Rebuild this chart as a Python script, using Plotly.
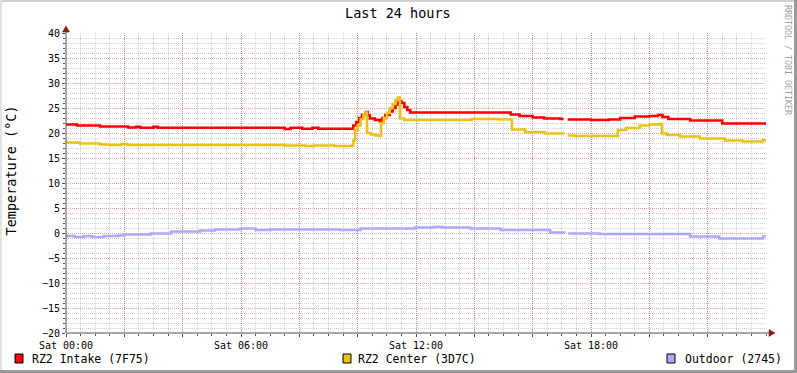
import plotly.graph_objects as go

# ---------------- data (hours since Sat 00:00, °C) ----------------
intake_t = [0, 0.38, 1.17, 2.13, 2.4, 2.55, 3.0, 3.15, 7.5, 7.7, 8.1, 8.45, 8.65, 9.8,
            9.85, 9.95, 10.05, 10.15, 10.28, 10.35, 10.42, 10.59, 10.76, 10.85, 10.95,
            11.1, 11.2, 11.3, 11.4, 11.5, 11.6, 11.7, 11.8, 15.22, 15.25, 15.55, 16.0,
            16.4, 16.95, 17.06, 17.1, 17.2, 18.0, 18.6, 19.0, 19.5, 20.0, 20.3, 20.45,
            20.65, 21.4, 22.5, 24.0]
intake_v = [21.7, 21.5, 21.3, 21.1, 21.25, 21.05, 21.25, 21.05, 20.8, 21.05, 20.85, 21.05,
            20.85, 20.85, 21.5, 22.2, 23.0, 23.6, 24.2, 23.5, 22.9, 22.6, 22.3, 23.0, 23.6,
            24.3, 25.0, 25.7, 26.4, 26.0, 25.2, 24.6, 24.1, 24.1, 23.7, 23.4, 23.1, 22.9,
            22.8, 22.8, None, 22.7, 22.6, 22.7, 23.0, 23.3, 23.4, 23.6, 23.2, 22.8, 22.5,
            21.9, 21.9]

center_t = [0, 0.48, 1.17, 1.5, 1.9, 2.1, 7.5, 8.2, 8.5, 9.2, 9.8, 9.85, 9.91, 10.0, 10.1,
            10.2, 10.28, 10.32, 10.45, 10.6, 10.76, 10.8, 10.9, 11.0, 11.1, 11.2, 11.3,
            11.38, 11.45, 11.6, 13.9, 14.8, 15.29, 15.74, 16.42, 17.06, 17.1, 17.2, 17.45,
            18.92, 19.2, 19.68, 20.0, 20.36, 20.43, 20.6, 21.05, 21.73, 22.59, 23.2, 23.89,
            24.0]
center_v = [18.1, 17.9, 17.7, 17.6, 17.8, 17.6, 17.5, 17.4, 17.5, 17.4, 17.5, 18.5, 20.6,
            21.5, 22.8, 23.6, 24.1, 20.0, 19.7, 19.5, 19.4, 22.0, 23.0, 24.0, 25.0, 25.8,
            26.6, 27.1, 22.9, 22.6, 22.8, 22.7, 20.7, 20.2, 19.9, 19.7, None, 19.5, 19.4,
            20.6, 21.0, 21.5, 21.7, 21.8, 19.9, 19.6, 19.3, 18.9, 18.5, 18.3, 18.6, 18.6]

outdoor_t = [0, 0.3, 0.6, 0.9, 1.3, 1.8, 2.0, 2.9, 3.6, 4.6, 5.1, 5.97, 6.5, 7.0, 8.0, 9.4,
             10.1, 11.96, 12.6, 12.9, 13.85, 14.9, 16.0, 16.6, 17.08, 17.12, 17.22, 18.3,
             20.0, 21.4, 22.4, 23.5, 23.89, 24.0]
outdoor_v = [-0.6, -0.8, -0.6, -0.8, -0.6, -0.5, -0.3, -0.1, 0.3, 0.5, 0.7, 0.9, 0.6, 0.7,
             0.7, 0.6, 0.9, 1.1, 1.2, 1.1, 0.9, 0.6, 0.6, 0.1, 0.0, None, -0.1, -0.2, -0.2,
             -0.7, -1.1, -1.1, -0.7, -0.7]

x_tick_vals = [0, 2, 4, 6, 8, 10, 12, 14, 16, 18, 20, 22]
x_tick_text = ["Sat 00:00", "", "", "Sat 06:00", "", "", "Sat 12:00", "", "", "Sat 18:00", "", ""]

series_names = ["RZ2 Intake (7F75)", "RZ2 Center (3D7C)", "Outdoor (2745)"]
series_colors = ["#FF0000", "#EAC31A", "#AAAAFF"]

# ---------------- figure ----------------
W, H = 797, 373
L, R, T, B = 66, 31, 33, 40
PW, PH = W - L - R, H - T - B

def px(x):
    return (x - L) / PW

def py(y):
    return (H - B - y) / PH

FONT = "DejaVu Sans Mono"
fig = go.Figure()
for t, v, name, col in zip([intake_t, center_t, outdoor_t],
                           [intake_v, center_v, outdoor_v],
                           series_names, series_colors):
    fig.add_trace(go.Scatter(x=t, y=v, mode="lines", name=name,
                             line=dict(color=col, width=2.6, shape="hv"),
                             connectgaps=False, showlegend=False))

grid_minor = "rgba(150,150,150,0.45)"
grid_major = "rgba(200,70,70,0.5)"
axis_col = "#505050"
DOT = "1px,1px"

fig.update_layout(
    width=W, height=H,
    margin=dict(l=L, r=R, t=T, b=B, pad=0),
    paper_bgcolor="#FFFFFF", plot_bgcolor="#FFFFFF",
    font=dict(family=FONT, size=10, color="#000000"),
    xaxis=dict(range=[0, 24], tickvals=x_tick_vals, ticktext=x_tick_text,
               showgrid=True, gridcolor=grid_major, griddash=DOT, gridwidth=1,
               zeroline=False, showline=False, ticks="outside", ticklen=3,
               tickcolor=axis_col, tickfont=dict(size=10, family=FONT),
               minor=dict(dtick=0.5, tick0=0, showgrid=True, gridcolor=grid_minor,
                          griddash=DOT, gridwidth=1, ticks="outside", ticklen=2,
                          tickcolor=axis_col),
               fixedrange=True),
    yaxis=dict(range=[-20, 40], dtick=5, tick0=0,
               showgrid=True, gridcolor=grid_major, griddash=DOT, gridwidth=1,
               zeroline=False, showline=False, ticks="outside", ticklen=3,
               tickcolor=axis_col, tickfont=dict(size=10, family=FONT),
               minor=dict(dtick=1, showgrid=True, gridcolor=grid_minor,
                          griddash=DOT, gridwidth=1, ticks="outside", ticklen=2,
                          tickcolor=axis_col),
               fixedrange=True),
)

shapes = []
# axis lines
shapes.append(dict(type="line", xref="paper", yref="paper", x0=px(66), x1=px(771),
                   y0=py(333), y1=py(333), line=dict(color=axis_col, width=1)))
shapes.append(dict(type="line", xref="paper", yref="paper", x0=px(66), x1=px(66),
                   y0=py(333), y1=py(29), line=dict(color=axis_col, width=1)))
# arrows
arrow_col = "#8B1A1A"
shapes.append(dict(type="path", xref="paper", yref="paper",
                   path=f"M {px(66)} {py(26)} L {px(62.5)} {py(32)} L {px(69.5)} {py(32)} Z",
                   fillcolor=arrow_col, line=dict(color=arrow_col, width=0.5)))
shapes.append(dict(type="path", xref="paper", yref="paper",
                   path=f"M {px(775)} {py(333)} L {px(769)} {py(329.5)} L {px(769)} {py(336.5)} Z",
                   fillcolor=arrow_col, line=dict(color=arrow_col, width=0.5)))
# frame (3D border)
shapes.append(dict(type="rect", xref="paper", yref="paper", x0=px(0), x1=px(W),
                   y0=py(0), y1=py(2), fillcolor="#CFCFCF", line=dict(width=0)))
shapes.append(dict(type="rect", xref="paper", yref="paper", x0=px(0), x1=px(2),
                   y0=py(0), y1=py(H), fillcolor="#E2E2E2", line=dict(width=0)))
shapes.append(dict(type="rect", xref="paper", yref="paper", x0=px(W - 3), x1=px(W),
                   y0=py(0), y1=py(H), fillcolor="#9A9A9A", line=dict(width=0)))
shapes.append(dict(type="rect", xref="paper", yref="paper", x0=px(0), x1=px(W),
                   y0=py(H - 3), y1=py(H), fillcolor="#9A9A9A", line=dict(width=0)))

annotations = []
# legend
legend_sq_x = [15, 343, 667]
legend_txt_x = [30, 356, 683]
for sx, tx, name, col in zip(legend_sq_x, legend_txt_x, series_names, series_colors):
    shapes.append(dict(type="rect", xref="paper", yref="paper", x0=px(sx), x1=px(sx + 8),
                       y0=py(354), y1=py(363), fillcolor=col,
                       line=dict(color="#000000", width=1)))
    annotations.append(dict(xref="paper", yref="paper", x=px(tx), y=py(358.5),
                            xanchor="left", yanchor="middle", showarrow=False,
                            text=name, font=dict(family=FONT, size=11.5, color="#000000")))

# title
annotations.append(dict(xref="paper", yref="paper", x=px(398), y=py(13),
                        xanchor="center", yanchor="middle", showarrow=False,
                        text="Last 24 hours", font=dict(family=FONT, size=13.5, color="#000000")))
# y label
annotations.append(dict(xref="paper", yref="paper", x=px(10), y=py(170.5),
                        xanchor="center", yanchor="middle", showarrow=False, textangle=-90,
                        text="Temperature (°C)", font=dict(family=FONT, size=13.5, color="#000000")))
# watermark
annotations.append(dict(xref="paper", yref="paper", x=px(788), y=py(60),
                        xanchor="center", yanchor="middle", showarrow=False, textangle=90,
                        text="RRDTOOL / TOBI OETIKER",
                        font=dict(family=FONT, size=8.3, color="#A0A0A0")))

fig.update_layout(shapes=shapes, annotations=annotations)
fig.write_html("out.html")
